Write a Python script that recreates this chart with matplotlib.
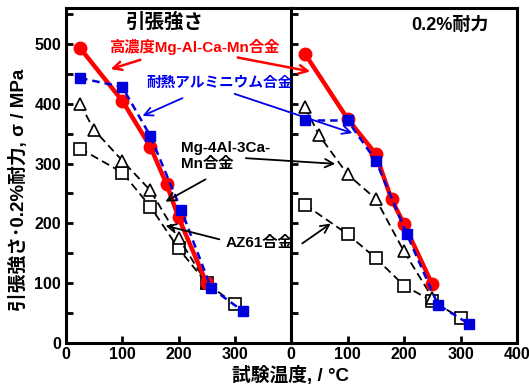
import numpy as np
import matplotlib
matplotlib.use("Agg")
import matplotlib.pyplot as plt
from matplotlib.ticker import MultipleLocator

plt.rcParams['font.family'] = ['Liberation Sans', 'Noto Sans CJK JP', 'DejaVu Sans']
plt.rcParams['font.weight'] = 'bold'

# ---------------- data ----------------
# tensile strength (left panel)
ts_red_x = [25, 100, 150, 179, 200, 250]
ts_red_y = [493, 405, 328, 265, 210, 100]
ts_blue_x = [25, 100, 150, 205, 258, 315]
ts_blue_y = [443, 428, 346, 222, 92, 53]
ts_tri_x = [25, 50, 100, 150, 200, 250]
ts_tri_y = [400, 356, 305, 255, 176, 100]
ts_sq_x = [25, 100, 150, 200, 250, 300]
ts_sq_y = [325, 285, 228, 158, 100, 65]

# 0.2% proof stress (right panel)
ps_red_x = [25, 100, 150, 178, 200, 250]
ps_red_y = [483, 375, 316, 240, 199, 98]
ps_blue_x = [25, 100, 150, 205, 260, 315]
ps_blue_y = [372, 372, 305, 182, 64, 32]
ps_tri_x = [25, 50, 100, 150, 200, 250]
ps_tri_y = [394, 347, 282, 241, 153, 76]
ps_sq_x = [25, 100, 150, 200, 250, 300]
ps_sq_y = [231, 182, 142, 96, 70, 42]

W, H = 529, 389


def fp(x, y):
    # figure pixel -> figure fraction
    return (x / W, 1 - y / H)


fig = plt.figure(figsize=(W / 100, H / 100), dpi=100)
ax1 = fig.add_axes([66 / W, 1 - 343 / H, 225 / W, 335 / H])
ax2 = fig.add_axes([291 / W, 1 - 343 / H, 226 / W, 335 / H])


def draw_panel(ax, red, blue, tri, sq):
    ax.plot(*sq, color='black', ls='--', lw=1.3, marker='s', ms=9,
            mfc='white', mec='black', mew=1.2, dashes=(4.5, 2.5), zorder=2)
    ax.plot(*tri, color='black', ls='--', lw=1.3, marker='^', ms=9,
            mfc='white', mec='black', mew=1.2, dashes=(4.5, 2.5), zorder=2)
    ax.plot(*red, color='#ff0000', ls='-', lw=3.2, marker='o', ms=9,
            mfc='#ff0000', mec='#ff0000', zorder=3)
    ax.plot(*blue, color='#0000dd', ls='--', lw=1.8, marker='s', ms=7.5,
            mfc='#0000dd', mec='#0000dd', dashes=(3, 2), zorder=4)
    ax.set_xlim(0, 400)
    ax.set_ylim(0, 560)
    ax.xaxis.set_major_locator(MultipleLocator(100))
    ax.yaxis.set_major_locator(MultipleLocator(100))
    ax.yaxis.set_minor_locator(MultipleLocator(50))
    ax.tick_params(direction='in', width=2, length=5, labelsize=11.5)
    ax.tick_params(which='minor', direction='in', width=2, length=5)
    ax.tick_params(axis='x', pad=3)
    for s in ax.spines.values():
        s.set_linewidth(2.2)


draw_panel(ax1, (ts_red_x, ts_red_y), (ts_blue_x, ts_blue_y),
           (ts_tri_x, ts_tri_y), (ts_sq_x, ts_sq_y))
draw_panel(ax2, (ps_red_x, ps_red_y), (ps_blue_x, ps_blue_y),
           (ps_tri_x, ps_tri_y), (ps_sq_x, ps_sq_y))

ax1.set_xticks([0, 100, 200, 300])
ax2.set_yticklabels([])
for ax in (ax1, ax2):
    for lab in ax.get_xticklabels() + ax.get_yticklabels():
        lab.set_fontweight('bold')

# titles of panels
fig.text(*fp(165, 22), '引張強さ', ha='center', va='center', fontsize=14, fontweight='bold')
fig.text(*fp(450, 26), '0.2%耐力', ha='center', va='center', fontsize=13, fontweight='bold')

# axis labels
fig.text(*fp(18, 190), '引張強さ･0.2%耐力, σ / MPa', rotation=90, ha='center',
         va='center', fontsize=13.5, fontweight='bold')
fig.text(*fp(290, 375), '試験温度, / °C', ha='center', va='center',
         fontsize=13.5, fontweight='bold')

# labels with arrows
fig.text(*fp(194, 47), '高濃度Mg-Al-Ca-Mn合金', ha='center', va='center',
         fontsize=11, fontweight='bold', color='#ff0000')
fig.text(*fp(220, 83), '耐熱アルミニウム合金', ha='center', va='center',
         fontsize=10.5, fontweight='bold', color='#0000ee')
fig.text(*fp(181, 156), 'Mg-4Al-3Ca-\nMn合金', ha='left', va='center',
         fontsize=11, fontweight='bold', color='black', linespacing=1.15)
fig.text(*fp(226, 243), 'AZ61合金', ha='left', va='center',
         fontsize=11, fontweight='bold', color='black')

arrows = [
    ((143, 59), (108, 70), '#ff0000', 1.8),
    ((235, 57), (313, 72), '#ff0000', 1.8),
    ((185, 97), (140, 117), '#0000ee', 1.3),
    ((232, 93), (355, 134), '#0000ee', 1.3),
    ((243, 158), (338, 164), 'black', 1.3),
    ((208, 178), (163, 203), 'black', 1.3),
    ((222, 240), (163, 225), 'black', 1.3),
    ((300, 245), (333, 222), 'black', 1.3),
]
for (x0, y0), (x1, y1), c, lw in arrows:
    fig.add_artist(matplotlib.patches.FancyArrowPatch(
        fp(x0, y0), fp(x1, y1), transform=fig.transFigure,
        arrowstyle='->,head_length=6,head_width=3', color=c, lw=lw,
        mutation_scale=1, zorder=10))

fig.savefig('out.png', dpi=100)
